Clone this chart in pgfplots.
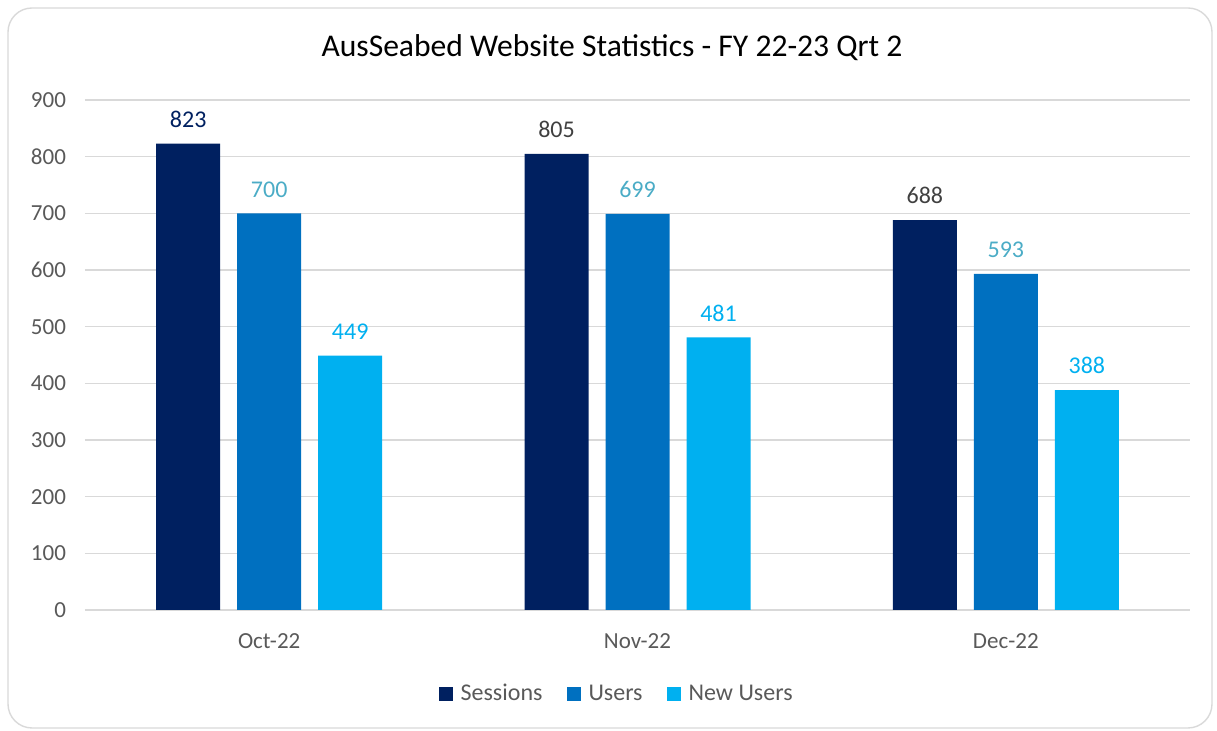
\documentclass[border=0pt]{standalone}
\usepackage{fontspec}
\setmainfont{Carlito}
\usepackage{pgfplots}
\pgfplotsset{compat=1.18}
\definecolor{sess}{HTML}{002060}
\definecolor{users}{HTML}{0070C0}
\definecolor{newusers}{HTML}{00B0F0}
\definecolor{userlbl}{HTML}{4BACC6}
\definecolor{darklbl}{HTML}{404040}
\definecolor{txtgray}{HTML}{595959}
\definecolor{gridgray}{HTML}{D9D9D9}
\begin{document}
\begin{tikzpicture}[x=1pt,y=1pt]
\useasboundingbox (-42.5,-60.5) rectangle (566,305);
\draw[gridgray, line width=0.7pt, rounded corners=12pt] (-38.5,-59) rectangle (563.5,301);
\node[font=\fontsize{15.8}{18}\selectfont, text=black] at (263.5,281) {AusSeabed Website Statistics - FY 22-23 Qrt 2};
\begin{axis}[
    at={(0,0)}, anchor=south west,
    scale only axis, width=552.5pt, height=255pt,
    ybar=8.5pt, bar width=32pt,
    xmin=-0.5, xmax=2.5, ymin=0, ymax=900,
    ytick={0,100,...,900},
    xtick={0,1,2},
    xticklabels={Oct-22, Nov-22, Dec-22},
    axis lines*=left,
    y axis line style={draw=none},
    x axis line style={draw=gridgray, line width=0.7pt},
    ytick style={draw=none},
    xtick style={draw=none},
    extra x ticks={-0.5,0.5,1.5,2.5},
    extra x tick labels={},
    extra x tick style={tick style={draw=gridgray, line width=0.7pt}, major tick length=4pt, tick align=outside},
    ymajorgrids, grid style={gridgray, line width=0.7pt},
    /pgf/number format/assume math mode=true,
    tick label style={font=\fontsize{11.5}{14}\selectfont, text=txtgray},
    yticklabel style={xshift=-6pt},
    xticklabel style={yshift=-4pt},
    nodes near coords,
    point meta=explicit symbolic,
    every node near coord/.append style={font=\fontsize{12}{14}\selectfont, yshift=4.5pt},
    legend style={at={(axis description cs:0.482,-0.165)}, anchor=center, draw=none, fill=none,
        legend columns=-1, font=\fontsize{12}{14}\selectfont, text=txtgray,
        /tikz/every odd column/.append style={column sep=2pt},
        /tikz/every even column/.append style={column sep=10pt}},
    legend cell align=left,
]
\addplot[fill=sess, draw=none, legend image code/.code={\fill[sess] (0pt,-3.5pt) rectangle (7pt,3.5pt);},
    every node near coord/.append style={text=darklbl}]
    coordinates {(0,823) [\textcolor{sess}{823}] (1,805) [805] (2,688) [688]};
\addplot[fill=users, draw=none, legend image code/.code={\fill[users] (0pt,-3.5pt) rectangle (7pt,3.5pt);},
    every node near coord/.append style={text=userlbl}]
    coordinates {(0,700) [700] (1,699) [699] (2,593) [593]};
\addplot[fill=newusers, draw=none, legend image code/.code={\fill[newusers] (0pt,-3.5pt) rectangle (7pt,3.5pt);},
    every node near coord/.append style={text=newusers}]
    coordinates {(0,449) [449] (1,481) [481] (2,388) [388]};
\legend{Sessions, Users, New Users}
\end{axis}
\end{tikzpicture}
\end{document}
